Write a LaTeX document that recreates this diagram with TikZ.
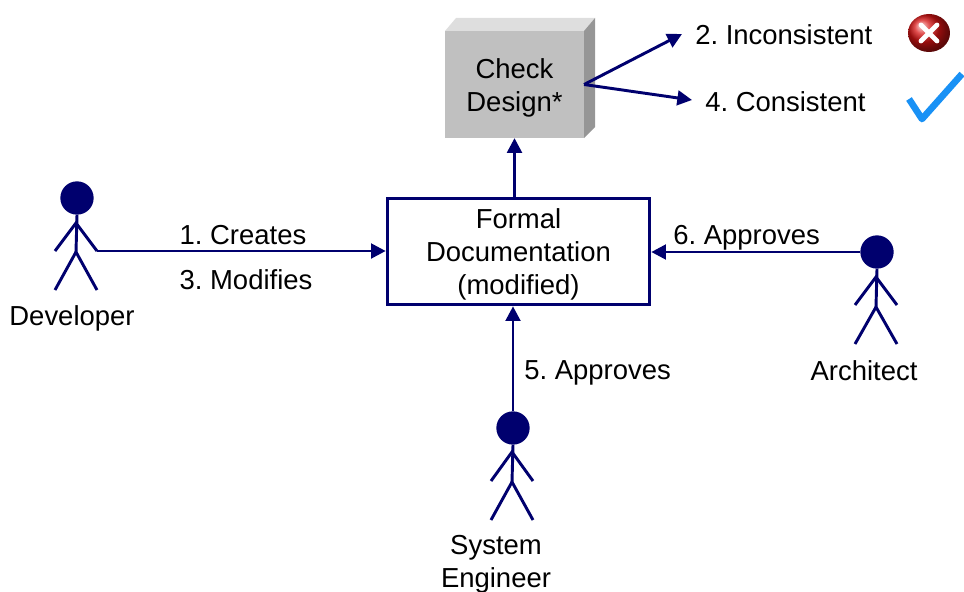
\documentclass[tikz,border=0pt]{standalone}
\usepackage{fontspec}
\setmainfont{Liberation Sans}
\usetikzlibrary{arrows.meta,shapes.geometric}
\definecolor{navy}{RGB}{0,0,110}
\definecolor{facegray}{RGB}{192,192,192}
\definecolor{topgray}{RGB}{222,222,222}
\definecolor{sidegray}{RGB}{150,150,150}
\definecolor{okblue}{RGB}{25,145,245}
\definecolor{errred}{RGB}{215,20,20}
\tikzset{
  every node/.style={font=\fontsize{20.6}{24.75}\selectfont\frenchspacing},
  arr/.style={draw=navy, line width=2.2pt, -{Triangle[length=11pt,width=11pt]}},
  limb/.style={draw=navy, line width=2.2pt},
  head/.style={circle, fill=navy, inner sep=0pt, minimum size=25pt},
  lbl/.style={inner sep=0pt, text height=14.7pt, text depth=0pt},
  txt/.style={align=center, inner sep=0pt},
  docbox/.style={draw=navy, line width=2.2pt, fill=white, minimum width=197pt,
    minimum height=80pt, inner sep=0pt},
  cdface/.style={fill=facegray, minimum width=104pt, minimum height=80pt, inner sep=0pt}
}
\begin{document}
\begin{tikzpicture}[x=0.75pt,y=-0.75pt]
\useasboundingbox (0,0) rectangle (964,592);

% Check Design block with bevelled top and side
\fill[topgray] (445,31) -- (456,18) -- (595,18) -- (584,31) -- cycle;
\fill[sidegray] (584,31) -- (595,18) -- (595,127) -- (584,138) -- cycle;
\node[cdface] (cd) at (514.5,84.5) {};
\node[txt] (cdtext) at (514.5,87.5) {Check\\Design*};

% Formal documentation box
\node[docbox] (doc) at (518.5,251.5) {};
\node[txt] (doctext) at (518.5,254.5) {Formal\\Documentation\\(modified)};

% Results of the check
\coordinate (inc) at (682,34);
\coordinate (con) at (692,100);
\draw[arr] (cd.east) -- (inc);
\draw[arr] (cd.east) -- (con);
\node[lbl, anchor=west] (inclbl) at (695,35) {2. Inconsistent};
\node[lbl, anchor=west] (conlbl) at (705,102) {4. Consistent};

% Error icon
\shade[ball color=errred] (929,33) ellipse (21 and 19);
\draw[white, line width=3.6pt, line cap=round] (921,25) -- (937,41) (937,25) -- (921,41);

% Check mark icon
\draw[okblue, line width=5pt, line join=round] (909,99) -- (922,119) -- (962,74);

% Documentation feeds the check
\draw[arr] (cd.south |- doc.north) -- (cd.south);

% Developer
\node[head] (devhead) at (77,198) {};
\coordinate (devhip) at (76,252);
\coordinate (devhand) at (97,251);
\draw[limb] (devhead.south) -- (devhip);
\draw[limb] (55,251) -- (76,223) -- (devhand);
\draw[limb] (55,290) -- (devhip) -- (97,290);
\node[lbl] (devlbl) at (72,316) {Developer};
\draw[arr] (devhand) -- (devhand -| doc.west);
\node[lbl] (creates) at (243,235) {1. Creates};
\node[lbl] (modifies) at (246,280) {3. Modifies};

% Architect
\node[head] (archhead) at (877,252) {};
\coordinate (archhip) at (876,307);
\draw[limb] (archhead.south) -- (archhip);
\draw[limb] (855,305) -- (876,277) -- (897,305);
\draw[limb] (855,344) -- (archhip) -- (897,344);
\node[lbl] (archlbl) at (864,371) {Architect};
\draw[arr] (archhead.west) -- (archhead.west -| doc.east);
\node[lbl, anchor=west] (appr6) at (673,235) {6. Approves};

% System engineer
\node[head] (sehead) at (513,428) {};
\coordinate (sehip) at (512,482);
\draw[limb] (sehead.south) -- (sehip);
\draw[limb] (491,481) -- (512,452) -- (533,481);
\draw[limb] (491,520) -- (sehip) -- (533,520);
\node[txt] (selbl) at (496,564) {System\\Engineer};
\draw[arr] (sehead.north) -- (sehead.north |- doc.south);
\node[lbl, anchor=west] (appr5) at (524,370) {5. Approves};
\end{tikzpicture}
\end{document}
